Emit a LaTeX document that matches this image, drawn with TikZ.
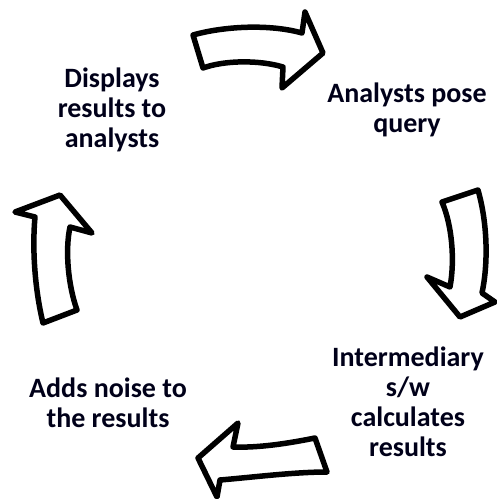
\documentclass[tikz,border=0pt]{standalone}
\usepackage{fontspec}
\setmainfont{Carlito}
\usetikzlibrary{calc}

\begin{document}
\begin{tikzpicture}[
    x=1pt, y=-1pt,
    stagetext/.style={font=\fontsize{28}{30}\selectfont\bfseries, align=center, inner sep=0pt, text=black!90!blue},
    blockarrow/.style={draw=black, fill=white, line width=5.5pt, line join=round},
]
\useasboundingbox (0,0) rectangle (497,499);

% Stages of the cycle
\node[stagetext] (display) at (112,110) {Displays\\results to\\analysts};
\node[stagetext] (query) at (407,110) {Analysts pose\\query};
\node[stagetext] (calc) at (408,402) {Intermediary\\s/w\\calculates\\results};
\node[stagetext] (noise) at (108,403) {Adds noise to\\the results};

% Block arrows between the stages
% display -> query
\draw[blockarrow] (193,35) .. controls (225,26) and (270,24) .. (302,33)
    -- (305,12) -- (323,53) -- (282,88) -- (283,67)
    .. controls (260,60) and (225,60) .. (203,68) -- cycle;
% query -> calc
\draw[blockarrow] (442,202) -- (478,190)
    .. controls (488,225) and (488,265) .. (482,293)
    -- (495,302) -- (460,317) -- (427,277) -- (450,287)
    .. controls (455,260) and (452,225) .. (442,202) -- cycle;
% calc -> noise
\draw[blockarrow] (315,438) .. controls (290,443) and (260,448) .. (233,447)
    -- (238,423) -- (198,458) -- (217,497) -- (220,480)
    .. controls (255,477) and (295,472) .. (327,472) -- cycle;
% noise -> display
\draw[blockarrow] (43,323) .. controls (35,290) and (32,250) .. (35,217)
    -- (15,212) -- (60,195) -- (92,233) -- (70,227)
    .. controls (65,250) and (68,285) .. (77,310) -- cycle;

\end{tikzpicture}
\end{document}
